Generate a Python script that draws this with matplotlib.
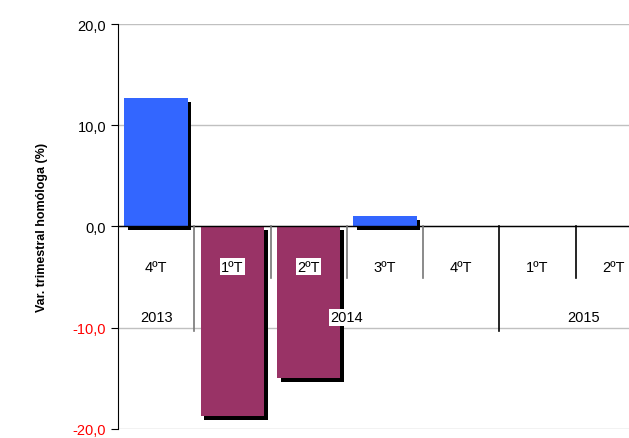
import matplotlib.pyplot as plt
import matplotlib.patheffects as pe

plt.rcParams['font.family'] = ['Liberation Sans', 'DejaVu Sans']

quarters = ['4ºT', '1ºT', '2ºT', '3ºT', '4ºT', '1ºT', '2ºT']
years = ['2013', '2014', '2015']
year_span = [(0, 0), (1, 4), (5, 6.2)]
values = [12.7, -18.7, -15.0, 1.0]
yticks = [20, 10, 0, -10, -20]

fig = plt.figure(figsize=(6.29, 4.39), dpi=100)
ax = fig.add_axes([0.1876, 0.021, 0.849, 0.922])

x = list(range(len(values)))
cols = ['#3366FF' if v >= 0 else '#993366' for v in values]
shadow = [pe.SimplePatchShadow(offset=(2.5, -2.8), shadow_rgbFace='black', alpha=1), pe.Normal()]
bars = ax.bar(x, values, width=0.83, color=cols, zorder=3)
for b in bars:
    b.set_path_effects(shadow)

ax.set_xlim(-0.5, 6.5)
ax.set_ylim(-20, 20)
ax.set_yticks(yticks)
ax.set_yticklabels([f'{t:.1f}'.replace('.', ',') for t in yticks], fontsize=10.5)
for lbl, t in zip(ax.get_yticklabels(), yticks):
    lbl.set_color('red' if t < 0 else 'black')
ax.tick_params(axis='y', length=5, direction='out', color='black')
ax.set_xticks([])
ax.grid(axis='y', color='#c0c0c0', lw=1, zorder=0)
ax.axhline(0, color='black', lw=1, zorder=4)
for s in ['top', 'right', 'bottom']:
    ax.spines[s].set_visible(False)
ax.set_ylabel('Var. trimestral homóloga (%)', fontsize=9, fontweight='bold', labelpad=18)

# category axis drawn inside the plot, below the zero line
box = dict(facecolor='white', edgecolor='none', pad=1)
for i, q in enumerate(quarters):
    ax.text(i, -4.0, q, ha='center', va='center', fontsize=10.5, bbox=box, zorder=6)
for q_sep in [0.5, 1.5, 2.5, 3.5, 4.5, 5.5]:
    deep = q_sep in (0.5, 4.5)
    ax.plot([q_sep, q_sep], [0, -10.3 if deep else -5.1],
            color='#777777' if q_sep < 4 else 'black', lw=1.2, zorder=5)
for yr, (a, b) in zip(years, year_span):
    ax.text((a + b) / 2, -9.0, yr, ha='center', va='center', fontsize=10.5, bbox=box, zorder=6)

fig.savefig('out.png', dpi=100)
